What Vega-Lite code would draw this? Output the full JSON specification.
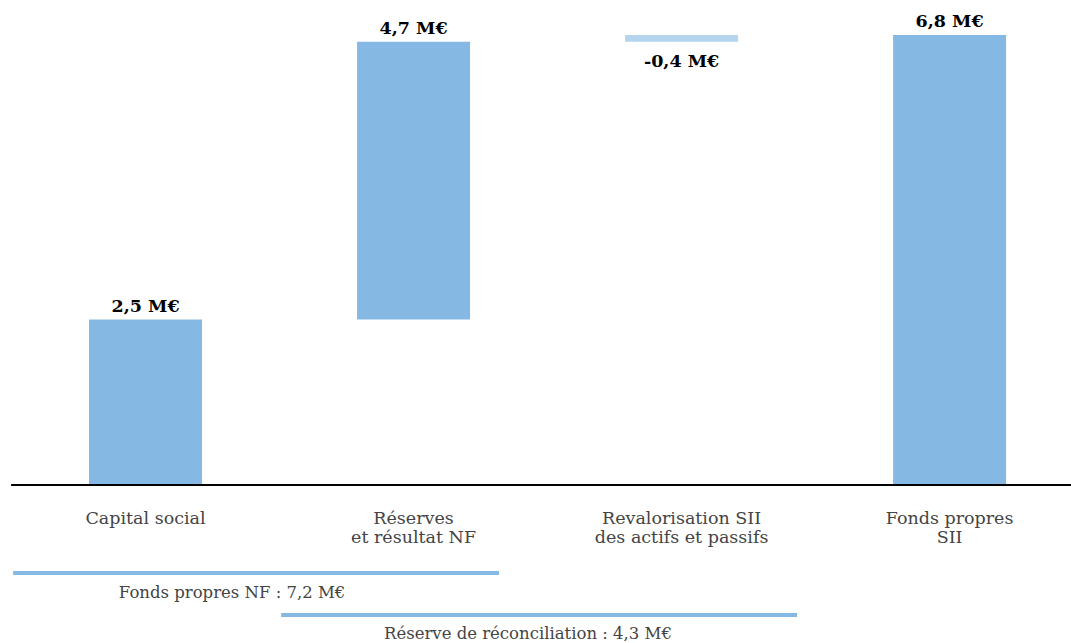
{
  "$schema": "https://vega.github.io/schema/vega-lite/v6.json",
  "width": 1071,
  "height": 643,
  "autosize": "none",
  "padding": 0,
  "background": "white",
  "config": {"view": {"stroke": null}},
  "datasets": {
    "bars": [
      {"cat": "Capital social", "pos": 0, "start": 0, "end": 2.5, "value": "2,5 M€", "kind": "hausse", "place": "above"},
      {"cat": "Réserves\net résultat NF", "pos": 1, "start": 2.5, "end": 6.7, "value": "4,7 M€", "kind": "hausse", "place": "above"},
      {"cat": "Revalorisation SII\ndes actifs et passifs", "pos": 2, "start": 6.7, "end": 6.8, "value": "-0,4 M€", "kind": "baisse", "place": "below"},
      {"cat": "Fonds propres\nSII", "pos": 3, "start": 0, "end": 6.8, "value": "6,8 M€", "kind": "hausse", "place": "above"}
    ],
    "brackets": [
      {"from": -0.494, "to": 1.319, "level": -1.33, "label": "Fonds propres NF : 7,2 M€", "lx": 0.323, "ly": -1.632},
      {"from": 0.506, "to": 2.431, "level": -1.964, "label": "Réserve de réconciliation : 4,3 M€", "lx": 1.427, "ly": -2.25}
    ]
  },
  "layer": [
    {
      "data": {"name": "bars"},
      "mark": {"type": "bar", "width": 113},
      "encoding": {
        "x": {"field": "pos", "type": "quantitative", "scale": {"domain": [-0.543, 3.453], "nice": false, "zero": false, "padding": 0}, "axis": null},
        "y": {"field": "start", "type": "quantitative", "scale": {"domain": [-2.387, 7.329], "nice": false, "zero": false, "padding": 0}, "axis": null},
        "y2": {"field": "end"},
        "color": {"field": "kind", "type": "nominal", "scale": {"domain": ["hausse", "baisse"], "range": ["#85b9e3", "#b5d4ee"]}, "legend": null}
      }
    },
    {
      "data": {"name": "bars"},
      "mark": {"type": "rule", "color": "#000000", "strokeWidth": 2},
      "encoding": {
        "x": {"datum": -0.5, "type": "quantitative"},
        "x2": {"datum": 3.453},
        "y": {"datum": 0, "type": "quantitative"}
      }
    },
    {
      "data": {"name": "bars"},
      "transform": [{"filter": "datum.place === 'above'"}],
      "mark": {"type": "text", "font": "DejaVu Serif", "fontWeight": "bold", "fontSize": 17.5, "color": "#000000", "baseline": "alphabetic", "dy": -8},
      "encoding": {
        "x": {"field": "pos", "type": "quantitative"},
        "y": {"field": "end", "type": "quantitative"},
        "text": {"field": "value"}
      }
    },
    {
      "data": {"name": "bars"},
      "transform": [{"filter": "datum.place === 'below'"}],
      "mark": {"type": "text", "font": "DejaVu Serif", "fontWeight": "bold", "fontSize": 17.5, "color": "#000000", "baseline": "alphabetic", "dy": 25},
      "encoding": {
        "x": {"field": "pos", "type": "quantitative"},
        "y": {"field": "start", "type": "quantitative"},
        "text": {"field": "value"}
      }
    },
    {
      "data": {"name": "bars"},
      "mark": {"type": "text", "font": "DejaVu Serif", "fontSize": 17.5, "color": "#444444", "baseline": "top", "dy": 25, "lineBreak": "\n", "lineHeight": 19},
      "encoding": {
        "x": {"field": "pos", "type": "quantitative"},
        "y": {"datum": 0, "type": "quantitative"},
        "text": {"field": "cat"}
      }
    },
    {
      "data": {"name": "brackets"},
      "mark": {"type": "rule", "color": "#85b9e3", "strokeWidth": 4},
      "encoding": {
        "x": {"field": "from", "type": "quantitative"},
        "x2": {"field": "to"},
        "y": {"field": "level", "type": "quantitative"}
      }
    },
    {
      "data": {"name": "brackets"},
      "mark": {"type": "text", "font": "DejaVu Serif", "fontSize": 16.5, "color": "#444444", "baseline": "middle"},
      "encoding": {
        "x": {"field": "lx", "type": "quantitative"},
        "y": {"field": "ly", "type": "quantitative"},
        "text": {"field": "label"}
      }
    }
  ]
}
